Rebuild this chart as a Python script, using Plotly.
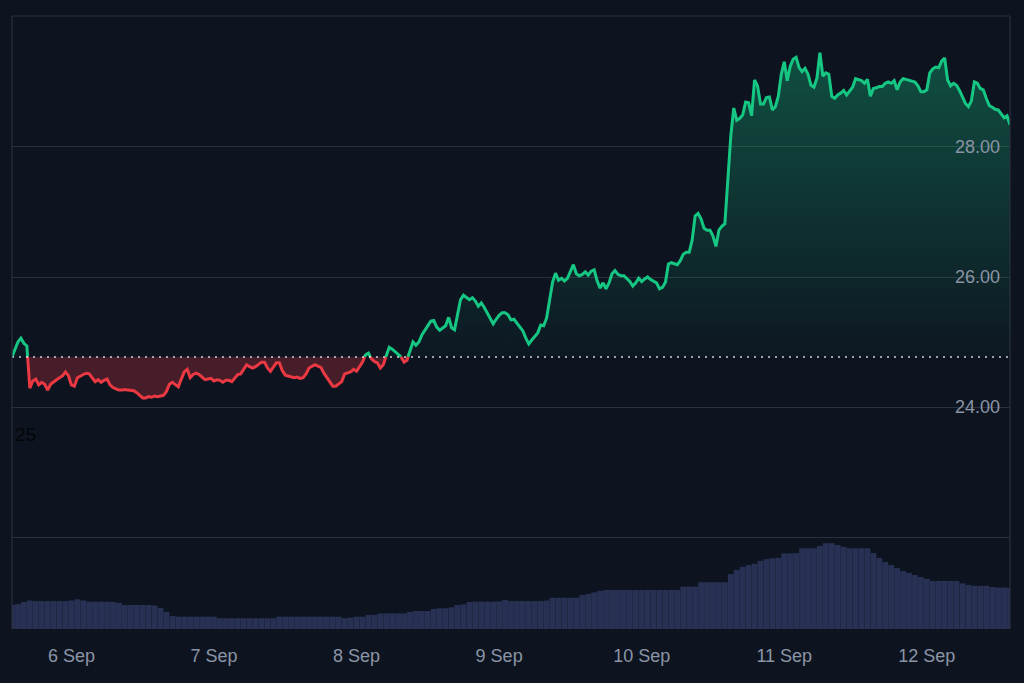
import pandas as pd
import plotly.graph_objects as go

# ---------------- data ----------------
start_time = "2024-09-05 14:00"

# price (USD) every 30 minutes
prices = [
    24.77, 24.88, 25.00, 25.06, 24.98, 24.94, 24.29, 24.40, 24.43, 24.34,
    24.38, 24.35, 24.26, 24.35, 24.39, 24.42, 24.45, 24.48, 24.54, 24.48,
    24.34, 24.32, 24.45, 24.48, 24.50, 24.52, 24.51, 24.45, 24.39, 24.42,
    24.38, 24.41, 24.43, 24.34, 24.30, 24.28, 24.26, 24.26, 24.27, 24.26,
    24.25, 24.25, 24.22, 24.18, 24.14, 24.14, 24.16, 24.15, 24.17, 24.16,
    24.17, 24.18, 24.24, 24.35, 24.38, 24.35, 24.31, 24.43, 24.54, 24.58,
    24.45, 24.50, 24.52, 24.50, 24.46, 24.42, 24.43, 24.44, 24.40, 24.42,
    24.41, 24.38, 24.41, 24.41, 24.39, 24.45, 24.50, 24.51, 24.58, 24.65,
    24.62, 24.60, 24.62, 24.65, 24.69, 24.69, 24.60, 24.55, 24.62, 24.68,
    24.68, 24.56, 24.49, 24.48, 24.46, 24.45, 24.46, 24.44, 24.45, 24.51,
    24.60, 24.63, 24.65, 24.63, 24.61, 24.52, 24.45, 24.39, 24.32, 24.32,
    24.35, 24.39, 24.51, 24.52, 24.54, 24.58, 24.55, 24.62, 24.69, 24.80,
    24.83, 24.74, 24.70, 24.68, 24.60, 24.65, 24.79, 24.92, 24.89, 24.85,
    24.81, 24.77, 24.69, 24.72, 24.88, 25.00, 24.95, 25.00, 25.11, 25.18,
    25.26, 25.32, 25.33, 25.23, 25.18, 25.22, 25.25, 25.38, 25.22, 25.19,
    25.42, 25.65, 25.72, 25.68, 25.65, 25.68, 25.63, 25.55, 25.60, 25.53,
    25.45, 25.35, 25.28, 25.35, 25.41, 25.45, 25.45, 25.42, 25.34, 25.35,
    25.29, 25.22, 25.17, 25.06, 24.97, 25.03, 25.08, 25.14, 25.26, 25.25,
    25.37, 25.68, 25.92, 26.06, 25.95, 25.98, 25.94, 25.98, 26.09, 26.19,
    26.05, 26.02, 26.04, 26.08, 26.03, 26.09, 26.11, 25.94, 25.83, 25.91,
    25.82, 25.91, 26.05, 26.10, 26.04, 26.02, 26.02, 25.97, 25.93, 25.86,
    25.91, 25.98, 25.93, 25.97, 26.00, 25.96, 25.93, 25.91, 25.82, 25.84,
    25.92, 26.20, 26.22, 26.21, 26.19, 26.25, 26.35, 26.38, 26.38, 26.57,
    26.94, 26.98, 26.89, 26.75, 26.72, 26.72, 26.63, 26.47, 26.72, 26.78,
    26.82, 27.49, 28.17, 28.60, 28.41, 28.44, 28.49, 28.69, 28.68, 28.48,
    29.03, 28.94, 28.66, 28.66, 28.76, 28.77, 28.57, 28.62, 28.78, 29.12,
    29.31, 29.02, 29.24, 29.35, 29.38, 29.22, 29.16, 29.21, 29.12, 28.95,
    28.92, 29.06, 29.45, 29.09, 29.14, 29.12, 28.78, 28.75, 28.80, 28.83,
    28.87, 28.80, 28.86, 28.92, 29.05, 29.04, 29.02, 28.98, 29.04, 28.78,
    28.90, 28.91, 28.93, 28.93, 28.98, 29.00, 28.98, 29.02, 28.88, 29.00,
    29.05, 29.04, 29.03, 29.02, 29.00, 28.94, 28.85, 28.85, 28.88, 29.14,
    29.20, 29.23, 29.22, 29.32, 29.37, 29.03, 28.94, 28.98, 28.95, 28.87,
    28.78, 28.67, 28.62, 28.71, 29.00, 28.98, 28.90, 28.88, 28.75, 28.64,
    28.61, 28.58, 28.57, 28.51, 28.45, 28.48, 28.34,
]

# trading volume (millions USD) every hour
volumes = [
    8.0, 8.3, 9.0, 9.5, 9.3, 9.3, 9.3, 9.3, 9.3, 9.3,
    9.5, 9.9, 9.5, 9.1, 9.1, 9.1, 9.1, 9.0, 8.7, 8.0,
    8.0, 8.0, 8.0, 8.0, 7.8, 7.0, 5.7, 4.3, 4.1, 4.1,
    4.1, 4.1, 4.1, 4.1, 4.1, 3.6, 3.6, 3.6, 3.6, 3.6,
    3.6, 3.6, 3.6, 3.6, 3.6, 4.1, 4.1, 4.1, 4.1, 4.1,
    4.1, 4.1, 4.1, 4.1, 4.1, 4.1, 3.6, 3.8, 4.1, 4.1,
    4.7, 4.7, 5.2, 5.2, 5.2, 5.2, 5.2, 5.7, 6.0, 6.0,
    6.0, 6.7, 6.9, 6.9, 7.2, 8.0, 8.2, 9.0, 9.1, 9.1,
    9.1, 9.1, 9.2, 9.7, 9.3, 9.3, 9.3, 9.3, 9.3, 9.3,
    9.5, 10.4, 10.4, 10.4, 10.4, 10.4, 11.3, 11.7, 12.2, 12.7,
    13.0, 13.0, 13.0, 13.0, 13.0, 13.0, 13.0, 13.0, 13.0, 13.0,
    13.0, 13.0, 13.0, 14.1, 14.1, 14.1, 15.6, 15.6, 15.6, 15.6,
    15.6, 18.3, 19.7, 20.7, 21.3, 21.7, 22.7, 23.3, 23.6, 23.7,
    25.2, 25.2, 25.3, 26.9, 26.9, 26.9, 27.7, 28.6, 28.6, 28.0,
    27.4, 26.9, 26.9, 26.9, 26.9, 25.3, 23.7, 22.3, 21.3, 20.3,
    19.3, 18.7, 18.0, 17.3, 16.7, 16.0, 16.0, 16.0, 16.0, 16.0,
    15.2, 14.7, 14.4, 14.4, 14.4, 14.0, 13.8, 13.8, 13.8,
]

x_tick_dates = ["2024-09-06", "2024-09-07", "2024-09-08", "2024-09-09",
                "2024-09-10", "2024-09-11", "2024-09-12"]
x_tick_labels = ["6 Sep", "7 Sep", "8 Sep", "9 Sep", "10 Sep", "11 Sep", "12 Sep"]
y_tick_values = [22, 24, 26, 28, 30]
y_tick_labels = ["", "24.00", "26.00", "28.00", ""]

# ---------------- styling ----------------
BG = "#0d1420"
GRID = "#2a313e"
GREEN = "#16c784"
RED = "#ea3943"
VOL = "#283153"
LABEL = "#8b94a6"
FONT = "Liberation Sans, Arial, sans-serif"

price_times = pd.date_range(start_time, periods=len(prices), freq="30min")
vol_times = pd.date_range(start_time, periods=len(volumes), freq="h")
t_start, t_end = price_times[0], price_times[-1]
base = prices[0]

# insert exact baseline-crossing points so colours switch cleanly
xs, ys = [], []
for k in range(len(prices)):
    if k > 0:
        p0, p1 = prices[k - 1], prices[k]
        if (p0 - base) * (p1 - base) < 0:
            f = (base - p0) / (p1 - p0)
            xs.append(price_times[k - 1] + (price_times[k] - price_times[k - 1]) * f)
            ys.append(base)
    xs.append(price_times[k])
    ys.append(prices[k])

upper = [max(v, base) for v in ys]
lower = [min(v, base) for v in ys]
green_line = [v if v >= base else None for v in ys]
red_line = [v if v <= base else None for v in ys]
base_line = [base] * len(xs)

fig = go.Figure()

# volume bars (own hidden axis)
fig.add_trace(go.Bar(
    x=vol_times, y=volumes, yaxis="y2", marker=dict(color=VOL, line=dict(width=0)),
    hoverinfo="skip", showlegend=False,
))

# green fill (above baseline) with vertical gradient
fig.add_trace(go.Scatter(x=xs, y=base_line, mode="lines", line=dict(width=0),
                         hoverinfo="skip", showlegend=False))
fig.add_trace(go.Scatter(
    x=xs, y=upper, mode="lines", line=dict(width=0), fill="tonexty",
    fillgradient=dict(type="vertical", start=base, stop=29.45,
                      colorscale=[[0, "rgba(22,199,132,0.02)"],
                                  [1, "rgba(22,199,132,0.33)"]]),
    hoverinfo="skip", showlegend=False,
))

# red fill (below baseline)
fig.add_trace(go.Scatter(x=xs, y=base_line, mode="lines", line=dict(width=0),
                         hoverinfo="skip", showlegend=False))
fig.add_trace(go.Scatter(
    x=xs, y=lower, mode="lines", line=dict(width=0), fill="tonexty",
    fillcolor="rgba(234,57,67,0.26)", hoverinfo="skip", showlegend=False,
))

# price lines
fig.add_trace(go.Scatter(x=xs, y=green_line, mode="lines",
                         line=dict(color=GREEN, width=3), connectgaps=False,
                         hoverinfo="skip", showlegend=False))
fig.add_trace(go.Scatter(x=xs, y=red_line, mode="lines",
                         line=dict(color=RED, width=3), connectgaps=False,
                         hoverinfo="skip", showlegend=False))

# dotted baseline
fig.add_shape(type="line", xref="x", yref="y", x0=t_start, x1=t_end, y0=base, y1=base,
              line=dict(color="rgba(255,255,255,0.8)", width=1.5, dash="2px,5px"))

# frame: left, top, right
for x0, y0, x1, y1 in [(0, 0, 0, 1), (0, 1, 1, 1), (1, 0, 1, 1)]:
    fig.add_shape(type="line", xref="paper", yref="paper", x0=x0, y0=y0, x1=x1, y1=y1,
                  line=dict(color=GRID, width=1.2))

fig.add_annotation(text="25", xref="paper", yref="paper", x=0.001, y=0.3165,
                   xanchor="left", yanchor="middle", showarrow=False,
                   font=dict(family=FONT, size=19, color="#04060a"))

fig.update_layout(
    width=1024, height=683,
    margin=dict(l=12, r=14, t=16, b=54),
    paper_bgcolor=BG, plot_bgcolor=BG,
    bargap=0.02,
    showlegend=False,
    hovermode=False,
    font=dict(family=FONT, color=LABEL),
    xaxis=dict(
        range=[t_start, t_end], showgrid=False, zeroline=False, showline=False,
        tickvals=pd.to_datetime(x_tick_dates), ticktext=x_tick_labels,
        ticks="", tickfont=dict(size=18, color=LABEL), ticklabelstandoff=14,
        fixedrange=True,
    ),
    yaxis=dict(
        range=[20.585, 30.015], side="right", ticklabelposition="inside",
        tickvals=y_tick_values, ticktext=y_tick_labels, ticks="",
        showgrid=True, gridcolor=GRID, gridwidth=1, zeroline=False, showline=False,
        tickfont=dict(size=18, color=LABEL), ticklabelstandoff=7, fixedrange=True,
    ),
    yaxis2=dict(
        range=[0, 204.33], overlaying="y", visible=False, fixedrange=True,
    ),
)

fig.write_html("out.html", config={"displayModeBar": False})
